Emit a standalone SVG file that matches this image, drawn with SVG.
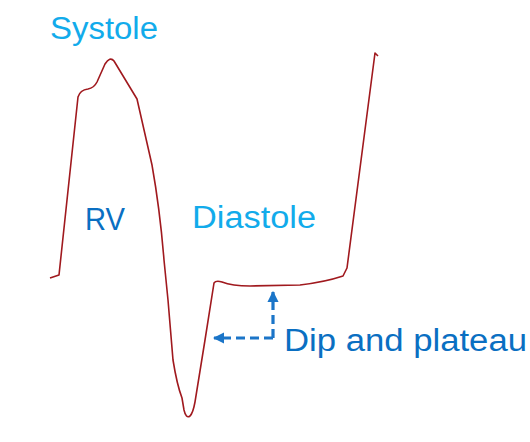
<svg xmlns="http://www.w3.org/2000/svg" width="530" height="442" viewBox="0 0 530 442">
<defs>
<style>
.t{font-family:"Liberation Sans",Arial,sans-serif;font-size:31px}
.lb{fill:#12ABEB}
.db{fill:#0A6FC2}
.curve{fill:none;stroke:#A0191E;stroke-width:1.6;stroke-linejoin:round}
.dash{fill:none;stroke:#1B75C8;stroke-width:3.2;stroke-dasharray:9 5}
</style>
<marker id="ah" viewBox="0 0 10 10" refX="9" refY="5" markerWidth="3.6" markerHeight="3.6" orient="auto" markerUnits="strokeWidth">
<path d="M0,0 L10,5 L0,10 z" fill="#1B75C8"/>
</marker>
</defs>
<g id="waveform">
<path class="curve" d="M50,278 L59,275 L78,97 Q80,90 88,89 Q94,88 97,82 L105,64 Q110,56 114,61 L137,99 L152,165 Q160,210 164,260 L168,300 L173,360 Q177,385 182,398 L184,410 Q186,419 190,416 Q193,413 195,402 L205,340 L214,283 Q216,280 222,282 Q232,286 250,286 L300,285 Q325,282 343,276 L347,268 L375,53 L378,56"/>
</g>
<g id="labels">
<text class="t lb" x="50" y="39" textLength="108" lengthAdjust="spacingAndGlyphs">Systole</text>
<text class="t db" x="85" y="230" textLength="40" lengthAdjust="spacingAndGlyphs">RV</text>
<text class="t lb" x="192" y="228" textLength="124" lengthAdjust="spacingAndGlyphs">Diastole</text>
<text class="t db" x="284" y="351" textLength="243" lengthAdjust="spacingAndGlyphs">Dip and plateau</text>
</g>
<g id="connectors">
<path class="dash" d="M273,338 L273,292" marker-end="url(#ah)"/>
<path class="dash" d="M273,338 L214,338" marker-end="url(#ah)"/>
</g>
</svg>
